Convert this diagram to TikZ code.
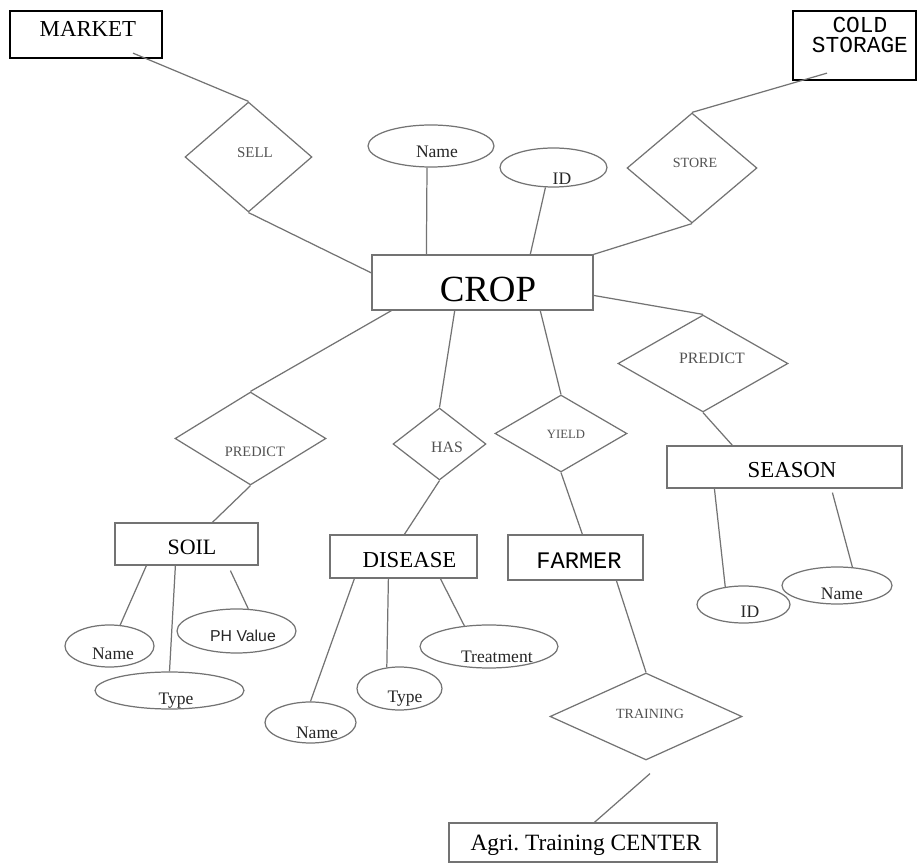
\documentclass[tikz,border=0pt]{standalone}
\usepackage{fontspec}
\setmainfont{Liberation Serif}
\setsansfont{Liberation Sans}
\setmonofont{Liberation Mono}
\usetikzlibrary{shapes.geometric, calc}
\definecolor{linegray}{gray}{0.45}
\definecolor{relgray}{gray}{0.32}
\newcommand{\low}[3][0pt]{\raisebox{-#2}[0pt][0pt]{\hspace*{#1}\hspace*{#1}#3}}
\newcommand{\fs}[1]{\fontsize{#1}{#1}\selectfont}

\begin{document}
\begin{tikzpicture}[x=0.02cm, y=-0.02cm,
  entity/.style={draw=linegray, line width=0.7pt, rectangle, inner sep=0pt},
  strong/.style={draw=black, line width=1.3pt},
  relation/.style={draw=linegray, line width=0.7pt, diamond, inner sep=0pt, text=relgray},
  attribute/.style={draw=linegray, line width=0.7pt, ellipse, inner sep=0pt, font=\fs{10pt}, text=black!85},
  link/.style={draw=linegray, line width=0.7pt}]
\useasboundingbox (0,0) rectangle (917,864);

% entities
\node[entity, strong, minimum width=3.04cm, minimum height=0.94cm, font=\fs{13pt}] (market) at (86,34.5) {\low[1.1pt]{1.4pt}{MARKET}};
\node[entity, strong, minimum width=2.46cm, minimum height=1.38cm, font=\ttfamily\fontsize{13pt}{10.4pt}\selectfont] (cold) at (854.5,45.5) {\low[3.1pt]{4.2pt}{\begin{tabular}[b]{@{}c@{}}COLD\\STORAGE\end{tabular}}};
\node[entity, minimum width=4.42cm, minimum height=1.1cm, font=\fs{21pt}] (crop) at (482.5,282.5) {\low[3.1pt]{11pt}{CROP}};
\node[entity, minimum width=2.86cm, minimum height=0.84cm, font=\fs{12.5pt}] (soil) at (186.5,544) {\low[3.1pt]{6.2pt}{SOIL}};
\node[entity, minimum width=2.94cm, minimum height=0.86cm, font=\fs{13pt}] (disease) at (403.5,556.5) {\low[3.4pt]{6.5pt}{DISEASE}};
\node[entity, minimum width=2.7cm, minimum height=0.9cm, font=\ttfamily\fs{13.5pt}] (farmer) at (575.5,557.5) {\low[2pt]{6pt}{FARMER}};
\node[entity, minimum width=4.7cm, minimum height=0.84cm, font=\fs{13pt}] (season) at (784.5,467) {\low[4.3pt]{6.2pt}{SEASON}};
\node[entity, minimum width=5.36cm, minimum height=0.78cm, font=\fs{13.3pt}] (agri) at (583,842.5) {\low[1.7pt]{4.3pt}{Agri.\ Training CENTER}};

% relationships
\node[relation, minimum width=2.54cm, minimum height=2.2cm, font=\fs{8.5pt}] (sell) at (248.5,157) {\low[3.7pt]{0.5pt}{SELL}};
\node[relation, minimum width=2.6cm, minimum height=2.2cm, font=\fs{8pt}] (store) at (692,168) {\low[1.7pt]{0pt}{STORE}};
\node[relation, minimum width=3.02cm, minimum height=1.86cm, font=\fs{8.2pt}] (predsoil) at (250.5,438.5) {\low[2.5pt]{10.5pt}{PREDICT}};
\node[relation, minimum width=1.86cm, minimum height=1.44cm, font=\fs{9pt}] (has) at (439.5,444) {\low[4.3pt]{5pt}{HAS}};
\node[relation, minimum width=2.64cm, minimum height=1.54cm, font=\fs{7.2pt}] (yield) at (561,433.5) {\low[2.8pt]{2.6pt}{YIELD}};
\node[relation, minimum width=3.4cm, minimum height=1.94cm, font=\fs{9pt}] (predseason) at (703,363.5) {\low[5.1pt]{0pt}{PREDICT}};
\node[relation, minimum width=3.84cm, minimum height=1.74cm, font=\fs{8pt}] (training) at (646,716.5) {\low[2.3pt]{1.4pt}{TRAINING}};

% attributes
\node[attribute, minimum width=2.52cm, minimum height=0.84cm] (cname) at (431,146) {\low[3.4pt]{6.8pt}{Name}};
\node[attribute, minimum width=2.14cm, minimum height=0.78cm] (cid) at (553.5,167.5) {\low[4.8pt]{9.6pt}{ID}};
\node[attribute, minimum width=1.78cm, minimum height=0.84cm] (sname) at (109.5,646) {\low[2pt]{7.9pt}{Name}};
\node[attribute, minimum width=2.98cm, minimum height=0.74cm] (stype) at (169.5,690.5) {\low[3.7pt]{8pt}{Type}};
\node[attribute, minimum width=2.38cm, minimum height=0.88cm, font=\sffamily\fs{9pt}] (sph) at (236.5,631) {\low[3.7pt]{6.2pt}{PH Value}};
\node[attribute, minimum width=1.82cm, minimum height=0.82cm] (dname) at (310.5,722.5) {\low[3.7pt]{9pt}{Name}};
\node[attribute, minimum width=1.7cm, minimum height=0.86cm] (dtype) at (399.5,688.5) {\low[3.1pt]{8pt}{Type}};
\node[attribute, minimum width=2.76cm, minimum height=0.86cm] (dtreat) at (489,646.5) {\low[4.5pt]{9pt}{Treatment}};
\node[attribute, minimum width=1.86cm, minimum height=0.74cm] (sid) at (743.5,604.5) {\low[3.7pt]{7.4pt}{ID}};
\node[attribute, minimum width=2.2cm, minimum height=0.74cm] (snm) at (837,585.5) {\low[2.8pt]{8.2pt}{Name}};

% crop links
\draw[link] ($(market.south)+(47,-6)$) -- (sell.north);
\draw[link] (sell.south) -- ($(crop.north west)!0.33!(crop.south west)$);
\draw[link] ($(cname.south)+(-4,0)$) -- ($(crop.north west)+(55,0)$);
\draw[link] (cid.248) -- ($(crop.north west)!0.715!(crop.north east)$);
\draw[link] (store.south) -- (crop.north east);
\draw[link] (store.north) -- ($(cold.south)+(-27.5,-8)$);
\draw[link] ($(crop.south west)+(20,0)$) -- (predsoil.north);
\draw[link] ($(crop.south west)!0.375!(crop.south east)$) -- (has.north);
\draw[link] ($(crop.south west)!0.76!(crop.south east)$) -- (yield.north);
\draw[link] ($(crop.north east)!0.73!(crop.south east)$) -- (predseason.north);
\draw[link] (predsoil.south) -- ($(soil.north west)+(98,0)$);
\draw[link] (has.south) -- ($(disease.north west)+(75,0)$);
\draw[link] (yield.south) -- ($(farmer.north west)+(75,0)$);
\draw[link] (predseason.south) -- ($(season.north west)+(66,0)$);

% attribute links
\draw[link] ($(season.south west)+(48,0)$) -- (sid.136);
\draw[link] ($(season.south west)+(166,4)$) -- (snm.50);
\draw[link] ($(soil.south west)+(32,0)$) -- (sname.63);
\draw[link] ($(soil.south west)+(61,0)$) -- (stype.north);
\draw[link] ($(soil.south west)+(116,5)$) -- (sph.62);
\draw[link] ($(disease.south west)+(25,0)$) -- (dname.north);
\draw[link] ($(disease.south west)+(59,0)$) -- (dtype.121);
\draw[link] ($(disease.south west)+(111,0)$) -- (dtreat.140);

% training
\draw[link] ($(farmer.south west)+(109,0)$) -- (training.north);
\draw[link] ($(training.south)+(4,13)$) -- ($(agri.north west)+(146,0)$);
\end{tikzpicture}
\end{document}
